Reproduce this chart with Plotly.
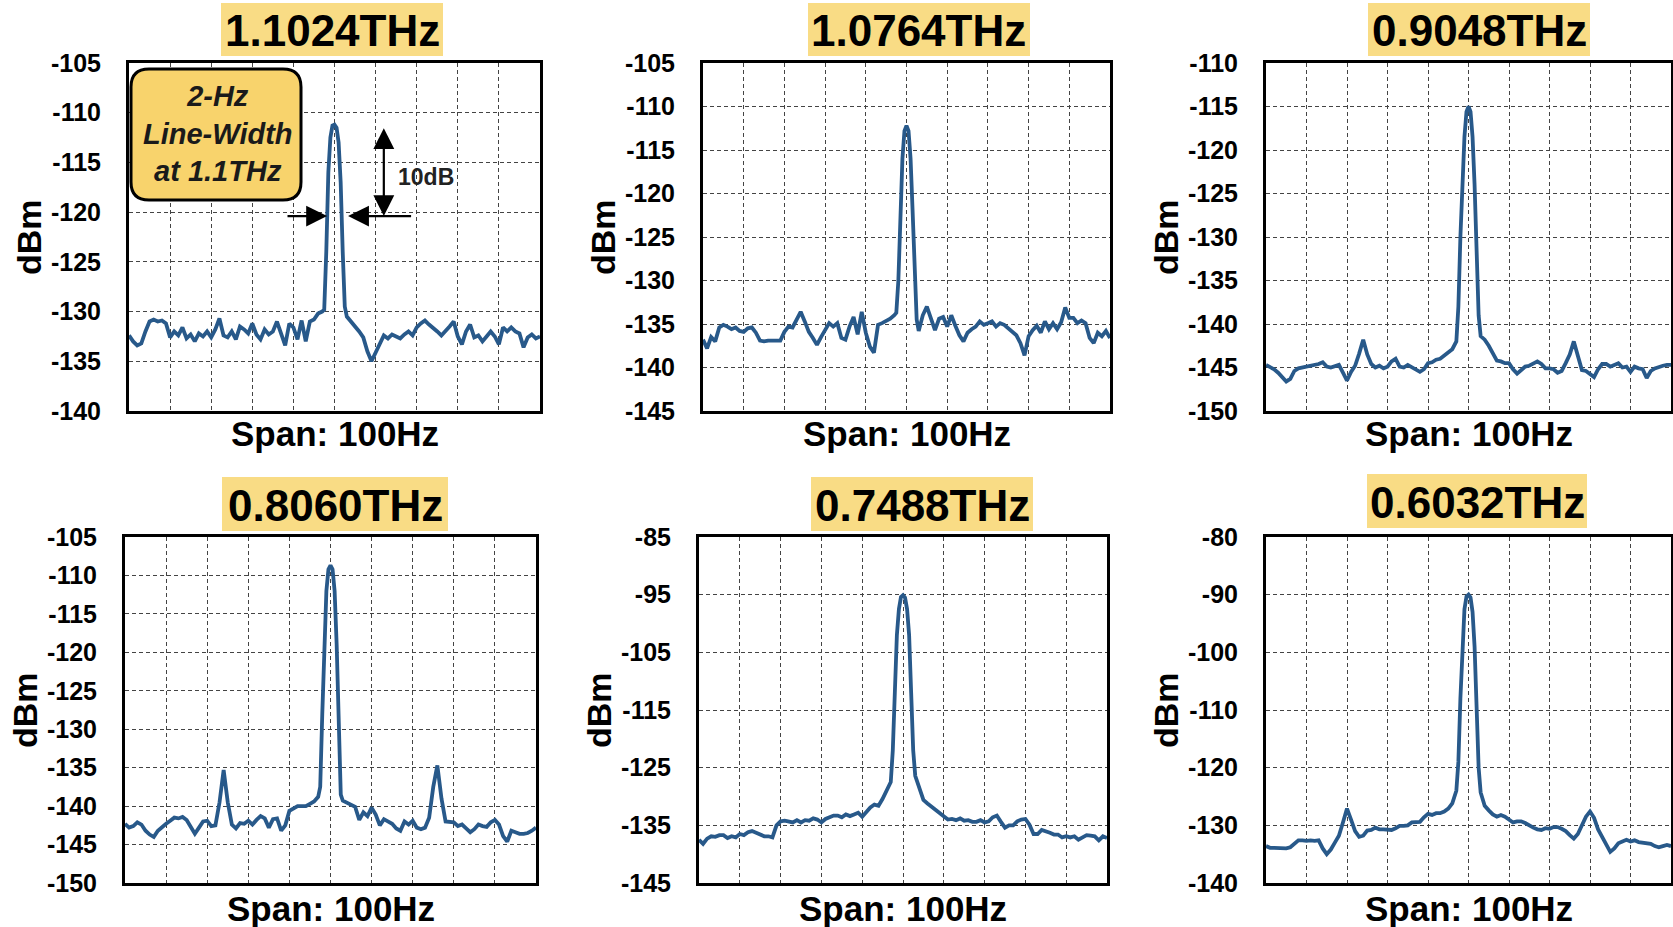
import plotly.graph_objects as go

# ---------------- data ----------------
FREQ_HZ = [-50, -49, -48, -47, -46, -45, -44, -43, -42, -41,
           -40, -39, -38, -37, -36, -35, -34, -33, -32, -31,
           -30, -29, -28, -27, -26, -25, -24, -23, -22, -21,
           -20, -19, -18, -17, -16, -15, -14, -13, -12, -11,
           -10, -9, -8, -7, -6, -5, -4, -3,
           -2.5, -2, -1.5, -1, -0.5, 0, 0.5, 1, 1.5, 2, 2.5,
           3, 4, 5, 6, 7, 8, 9, 10, 11, 12,
           13, 14, 15, 16, 17, 18, 19, 20, 21, 22,
           23, 24, 25, 26, 27, 28, 29, 30, 31, 32,
           33, 34, 35, 36, 37, 38, 39, 40, 41, 42,
           43, 44, 45, 46, 47, 48, 49, 50]

TITLES = ["1.1024THz", "1.0764THz", "0.9048THz", "0.8060THz", "0.7488THz", "0.6032THz"]

DBM_1_1024 = [-132.4, -133.0, -133.4, -133.2, -132.0, -131.0, -130.8, -131.0, -130.9, -131.2,
              -132.6, -132.0, -132.4, -131.6, -132.7, -132.3, -133.0, -132.2, -132.5, -132.0,
              -132.6, -131.8, -130.7, -132.4, -132.6, -132.0, -132.8, -131.5, -131.8, -132.2,
              -131.2, -132.3, -132.8, -131.8, -132.3, -132.0, -131.0, -132.3, -133.4, -131.2,
              -131.6, -132.8, -130.9, -133.0, -131.0, -130.8, -130.2, -130.0,
              -129.8, -124.0, -116.0, -112.5, -111.3, -111.2, -111.5, -113.0, -117.0, -124.0, -129.5,
              -130.5, -131.0, -131.4, -132.0, -132.6, -134.0, -135.0, -134.2, -133.2, -132.4,
              -132.7, -132.3, -132.5, -132.7, -132.3, -132.0, -132.4, -131.6, -131.2, -130.9,
              -131.3, -131.6, -132.0, -132.4, -132.0, -131.5, -131.0, -132.5, -133.3, -132.0,
              -131.3, -132.6, -132.4, -133.0, -132.5, -132.0, -132.5, -133.3, -131.6, -132.0,
              -131.6, -132.0, -132.2, -133.6, -132.6, -132.3, -132.7, -132.5]

DBM_1_0764 = [-136.8, -137.8, -136.5, -137.0, -135.4, -135.1, -135.3, -135.6, -135.4, -135.8,
              -135.9, -135.5, -135.4, -136.0, -136.9, -137.0, -136.9, -136.9, -136.8, -136.9,
              -135.9, -135.3, -135.4, -134.6, -133.6, -134.7, -135.9, -136.6, -137.4, -136.5,
              -135.6, -134.9, -135.3, -134.9, -136.6, -136.8, -135.3, -134.2, -136.2, -133.6,
              -136.0, -137.6, -138.3, -135.1, -134.9, -134.7, -134.4, -134.0,
              -133.7, -130.0, -122.0, -116.0, -112.8, -112.2, -112.8, -116.0, -122.0, -130.0, -134.5,
              -135.8, -134.0, -133.0, -134.2, -135.7, -134.4, -134.2, -135.3, -134.0, -135.2,
              -136.3, -137.0, -136.0, -135.6, -135.3, -134.7, -135.1, -134.9, -134.7, -135.3,
              -134.9, -135.1, -135.5, -135.9, -136.3, -137.2, -138.6, -136.4, -135.7, -135.2,
              -136.0, -134.7, -135.6, -134.9, -135.6, -134.8, -133.1, -134.3, -134.3, -134.9,
              -134.6, -134.9, -136.6, -137.2, -136.0, -136.4, -135.8, -136.6]

DBM_0_9048 = [-144.7, -144.9, -145.2, -145.6, -146.1, -146.6, -146.3, -145.4, -145.1, -145.0,
              -144.9, -144.9, -144.8, -144.6, -144.4, -144.9, -145.0, -144.8, -144.7, -145.6,
              -146.5, -145.5, -144.8, -143.4, -141.8, -143.5, -144.6, -145.0, -144.8, -145.1,
              -144.9, -144.3, -144.0, -144.9, -145.0, -144.7, -145.0, -145.3, -145.5, -145.2,
              -144.5, -144.4, -144.1, -144.0, -143.6, -143.3, -142.9, -142.0,
              -138.0, -130.0, -123.0, -118.5, -115.6, -115.0, -115.6, -118.5, -124.0, -131.0, -139.0,
              -141.4, -141.8, -142.5, -143.3, -144.2, -144.3, -144.5, -144.5, -145.2, -145.7,
              -145.3, -144.9, -144.8, -144.5, -144.3, -144.6, -145.1, -145.1, -145.2, -145.6,
              -145.4, -144.5, -143.5, -142.0, -143.5, -145.3, -145.4, -145.7, -146.1, -145.2,
              -144.6, -144.6, -144.9, -144.7, -144.5, -145.0, -144.9, -145.5, -144.9, -145.1,
              -145.2, -146.2, -145.4, -145.1, -144.9, -144.8, -144.7, -144.7]

DBM_0_8060 = [-142.3, -142.8, -142.6, -142.1, -142.4, -143.2, -143.7, -144.0, -143.2, -142.7,
              -142.3, -141.9, -141.5, -141.6, -141.4, -141.8, -142.8, -143.6, -142.8, -142.0,
              -141.9, -142.6, -142.5, -139.5, -135.3, -139.5, -142.4, -142.9, -142.2, -142.3,
              -141.9, -142.4, -141.8, -141.3, -141.6, -142.8, -141.7, -141.6, -143.2, -142.5,
              -140.6, -140.3, -140.0, -140.0, -140.0, -139.7, -139.4, -138.8,
              -137.5, -128.0, -118.0, -112.0, -109.2, -108.7, -109.2, -112.0, -119.0, -130.0, -138.5,
              -139.3, -139.6, -139.9, -140.1, -141.8, -140.8, -141.3, -140.2, -141.1, -142.5,
              -141.7, -142.0, -142.3, -142.9, -143.2, -142.0, -142.4, -141.9, -142.8, -143.0,
              -142.8, -141.5, -137.5, -134.7, -139.0, -142.0, -142.0, -142.1, -142.6, -142.4,
              -142.9, -143.4, -143.0, -142.4, -142.6, -142.7, -142.1, -141.8, -142.4, -143.9,
              -144.6, -143.2, -143.4, -143.6, -143.6, -143.5, -143.2, -142.8]

DBM_0_7488 = [-137.5, -138.2, -137.3, -136.9, -137.0, -136.7, -136.7, -137.2, -136.9, -137.1,
              -136.5, -136.7, -136.2, -136.0, -136.3, -136.6, -136.9, -136.9, -137.1, -135.0,
              -134.3, -134.2, -134.3, -134.5, -134.1, -134.5, -134.1, -134.2, -133.8, -134.0,
              -134.5, -133.9, -133.6, -133.3, -133.3, -133.6, -133.1, -133.4, -133.1, -132.8,
              -133.5, -132.6, -131.9, -131.4, -131.6, -130.4, -129.0, -127.5,
              -122.0, -111.0, -102.0, -97.5, -95.4, -95.1, -95.5, -97.5, -102.0, -112.0, -122.0,
              -126.4, -128.5, -130.6, -131.2, -131.8, -132.4, -132.9, -133.4, -134.0, -133.9,
              -134.1, -133.8, -134.2, -134.1, -134.4, -134.4, -134.1, -134.5, -134.3, -133.6,
              -133.3, -134.4, -135.4, -135.0, -135.0, -134.3, -134.0, -133.9, -134.9, -136.5,
              -136.5, -135.8, -136.0, -136.3, -136.6, -136.6, -137.1, -136.9, -137.1, -136.9,
              -137.5, -137.1, -136.7, -136.8, -136.9, -137.6, -136.9, -137.2]

DBM_0_6032 = [-133.6, -133.9, -133.9, -133.9, -134.0, -134.0, -133.8, -133.2, -132.6, -132.6,
              -132.7, -132.6, -132.7, -132.6, -134.0, -135.0, -134.2, -133.0, -131.8, -129.5,
              -127.1, -129.0, -131.0, -132.0, -131.8, -130.9, -130.8, -130.4, -130.7, -130.7,
              -130.8, -130.8, -130.5, -130.1, -130.1, -130.0, -129.5, -129.5, -129.4, -128.6,
              -128.0, -128.2, -127.9, -127.9, -127.6, -127.1, -126.2, -124.0,
              -119.0, -108.0, -98.0, -92.5, -90.3, -90.0, -90.5, -93.0, -99.0, -110.0, -120.0,
              -124.3, -126.6, -127.4, -128.1, -128.5, -128.2, -128.5, -129.0, -129.5, -129.3,
              -129.3, -129.6, -130.1, -130.4, -130.7, -130.8, -130.5, -130.6, -130.3, -130.3,
              -130.6, -131.0, -131.7, -132.3, -131.5, -130.1, -128.5, -127.6, -128.7, -130.7,
              -132.0, -133.2, -134.6, -134.0, -133.1, -132.8, -132.5, -132.8, -132.6, -132.9,
              -133.0, -133.0, -133.2, -133.6, -133.8, -133.6, -133.4, -133.6]

SERIES = [DBM_1_1024, DBM_1_0764, DBM_0_9048, DBM_0_8060, DBM_0_7488, DBM_0_6032]

Y_RANGES = [(-140, -105), (-145, -105), (-150, -110), (-150, -105), (-145, -85), (-140, -80)]
Y_TICKS = [
    [-140, -135, -130, -125, -120, -115, -110, -105],
    [-145, -140, -135, -130, -125, -120, -115, -110, -105],
    [-150, -145, -140, -135, -130, -125, -120, -115, -110],
    [-150, -145, -140, -135, -130, -125, -120, -115, -110, -105],
    [-145, -135, -125, -115, -105, -95, -85],
    [-140, -130, -120, -110, -100, -90, -80],
]
X_TITLE = "Span: 100Hz"
Y_TITLE = "dBm"

# ---------------- layout (pixels) ----------------
W, H = 1673, 927
PANEL_PX = [(129, 540, 63, 411), (703, 1110, 63, 411), (1266, 1671, 63, 411),
            (125, 536, 537, 883), (699, 1107, 537, 883), (1266, 1671, 537, 883)]
TITLE_BG_PX = [(221, 443, 3, 56), (808, 1030, 3, 56), (1368, 1590, 3, 56),
               (222, 448, 477, 531), (811, 1033, 477, 531), (1367, 1587, 474, 528)]
XTITLE_Y_PX = [433, 433, 433, 908, 908, 908]

FONT = "Liberation Sans, Arial, sans-serif"
LINE_COLOR = "#28598A"
HIGHLIGHT = "#F9DC85"
GRID_COLOR = "#444444"


def px(xp):
    return xp / W


def py(yp):
    return 1 - yp / H


fig = go.Figure()
annotations = []
shapes = []

for i in range(6):
    n = "" if i == 0 else str(i + 1)
    l, r, t, b = PANEL_PX[i]
    fig.add_trace(go.Scatter(
        x=FREQ_HZ, y=SERIES[i], mode="lines",
        line=dict(color=LINE_COLOR, width=3.8),
        xaxis="x" + n, yaxis="y" + n, showlegend=False, hoverinfo="skip"))

    fig.layout["xaxis" + n] = dict(
        domain=[px(l), px(r)], range=[-50, 50], anchor="y" + n, automargin=False,
        tickmode="linear", tick0=0, dtick=10, showticklabels=False, ticks="",
        showgrid=True, gridcolor=GRID_COLOR, gridwidth=1.3, griddash="4px,3px",
        showline=True, mirror=True, linecolor="black", linewidth=3, zeroline=False)
    fig.layout["yaxis" + n] = dict(
        domain=[py(b), py(t)], range=list(Y_RANGES[i]), anchor="x" + n, automargin=False,
        tickmode="array", tickvals=Y_TICKS[i], ticktext=[str(v) for v in Y_TICKS[i]],
        tickfont=dict(family=FONT, size=25, color="black", weight="bold"),
        ticks="", ticklabelstandoff=20,
        showgrid=True, gridcolor=GRID_COLOR, gridwidth=1.3, griddash="4px,3px",
        showline=True, mirror=True, linecolor="black", linewidth=3, zeroline=False)

    # title highlight + title text
    tl, tr, tt, tb = TITLE_BG_PX[i]
    shapes.append(dict(type="rect", xref="paper", yref="paper",
                       x0=px(tl), x1=px(tr), y0=py(tb), y1=py(tt),
                       fillcolor=HIGHLIGHT, line=dict(width=0), layer="below"))
    annotations.append(dict(text=TITLES[i], xref="paper", yref="paper",
                            x=px((tl + tr) / 2), y=py((tt + tb) / 2 + 1),
                            xanchor="center", yanchor="middle", showarrow=False,
                            font=dict(family=FONT, size=44, color="black", weight="bold")))
    # axis titles
    annotations.append(dict(text=X_TITLE, xref="paper", yref="paper",
                            x=px((l + r) / 2), y=py(XTITLE_Y_PX[i]),
                            xanchor="center", yanchor="middle", showarrow=False,
                            font=dict(family=FONT, size=35, color="black", weight="bold")))
    annotations.append(dict(text=Y_TITLE, xref="paper", yref="paper",
                            x=px(l - 100), y=py((t + b) / 2), textangle=-90,
                            xanchor="center", yanchor="middle", showarrow=False,
                            font=dict(family=FONT, size=34, color="black", weight="bold")))

# callout box in first panel (rounded rectangle)
bx0, bx1, by0, by1 = 131, 301, 69, 200
rad = 18
rx, ry = rad / W, rad / H
X0, X1, Y0, Y1 = px(bx0), px(bx1), py(by1), py(by0)
path = (f"M {X0+rx},{Y1} L {X1-rx},{Y1} Q {X1},{Y1} {X1},{Y1-ry} "
        f"L {X1},{Y0+ry} Q {X1},{Y0} {X1-rx},{Y0} L {X0+rx},{Y0} "
        f"Q {X0},{Y0} {X0},{Y0+ry} L {X0},{Y1-ry} Q {X0},{Y1} {X0+rx},{Y1} Z")
shapes.append(dict(type="path", xref="paper", yref="paper", path=path,
                   fillcolor="#F8D36C", line=dict(color="black", width=3), layer="above"))
annotations.append(dict(text="<i>2-Hz<br>Line-Width<br>at 1.1THz</i>", xref="paper", yref="paper",
                        x=px((bx0 + bx1) / 2 + 2), y=py((by0 + by1) / 2 - 1),
                        xanchor="center", yanchor="middle", showarrow=False, align="center",
                        font=dict(family=FONT, size=29, color="#1a1a1a", weight="bold")))

# 10dB line-width markers in panel 1
ARROW_Y = -120.4
annotations.append(dict(text="", x=-1.8, y=ARROW_Y, ax=-11.8, ay=ARROW_Y,
                        xref="x", yref="y", axref="x", ayref="y", showarrow=True,
                        arrowhead=2, arrowsize=1.9, arrowwidth=2.2, arrowcolor="black", standoff=0))
annotations.append(dict(text="", x=3.3, y=ARROW_Y, ax=19.0, ay=ARROW_Y,
                        xref="x", yref="y", axref="x", ayref="y", showarrow=True,
                        arrowhead=2, arrowsize=1.9, arrowwidth=2.2, arrowcolor="black", standoff=0))
annotations.append(dict(text="", x=12.0, y=ARROW_Y, ax=12.0, ay=-111.4,
                        xref="x", yref="y", axref="x", ayref="y", showarrow=True,
                        arrowside="end+start", arrowhead=2, arrowsize=1.9, arrowwidth=2.2,
                        arrowcolor="black", standoff=0, startstandoff=0))
annotations.append(dict(text="10dB", x=22.3, y=-116.5, xref="x", yref="y",
                        xanchor="center", yanchor="middle", showarrow=False,
                        font=dict(family=FONT, size=23, color="#222222", weight="bold")))

fig.update_layout(
    width=W, height=H, margin=dict(l=0, r=0, t=0, b=0, pad=0, autoexpand=False),
    paper_bgcolor="white", plot_bgcolor="white",
    annotations=annotations, shapes=shapes, showlegend=False,
    font=dict(family=FONT, color="black"))

fig.write_html("out.html")
